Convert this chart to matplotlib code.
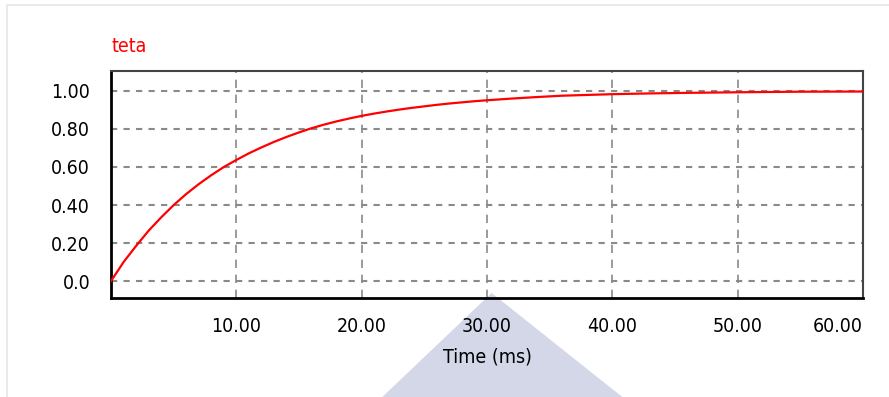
import matplotlib
matplotlib.use("Agg")
import matplotlib.pyplot as plt
from matplotlib.patches import Polygon, Rectangle

# teta
time_ms = [0, 1, 2, 3, 4, 5, 6, 7, 8, 9, 10, 11, 12, 13, 14, 15, 16, 17, 18, 19,
           20, 21, 22, 23, 24, 25, 26, 27, 28, 29, 30, 32, 34, 36, 38, 40, 43,
           46, 50, 55, 60]
teta = [0.0, 0.10, 0.185, 0.265, 0.335, 0.40, 0.458, 0.51, 0.557, 0.6, 0.637,
        0.672, 0.703, 0.732, 0.758, 0.782, 0.804, 0.823, 0.84, 0.855, 0.869,
        0.881, 0.892, 0.902, 0.911, 0.919, 0.927, 0.934, 0.94, 0.946, 0.951,
        0.96, 0.968, 0.975, 0.979, 0.983, 0.987, 0.99, 0.993, 0.996, 0.997]

x_ticks = [10, 20, 30, 40, 50, 60]
x_tick_labels = ["10.00", "20.00", "30.00", "40.00", "50.00", "60.00"]
y_ticks = [0.0, 0.2, 0.4, 0.6, 0.8, 1.0]
y_tick_labels = ["0.0", "0.20", "0.40", "0.60", "0.80", "1.00"]

plt.rcParams['font.family'] = ['DejaVu Sans']
plt.rcParams['font.stretch'] = 'condensed'

fig = plt.figure(figsize=(8.89, 3.97), dpi=100)

# faint page frame and watermark triangle from the scanned document
fig.patches.append(Rectangle((0.008, -0.1), 1.1, 1.087, transform=fig.transFigure,
                             fill=False, edgecolor="#e6e6e6", linewidth=1.2, zorder=-2))
fig.patches.append(Polygon([(0.43, 0.0), (0.553, 0.262), (0.70, 0.0)], closed=True,
                           transform=fig.transFigure, facecolor="#d3d7e8",
                           edgecolor="none", zorder=-2))

ax = fig.add_axes([0.1249, 0.2494, 0.8459, 0.5718])
ax.set_zorder(1)
ax.patch.set_alpha(0.0)

ax.plot(time_ms, teta, color="red", linewidth=1.6, zorder=3)

ax.set_xlim(0, 60)
ax.set_ylim(-0.089, 1.105)
ax.set_xticks(x_ticks)
ax.set_xticklabels(x_tick_labels)
ax.set_yticks(y_ticks)
ax.set_yticklabels(y_tick_labels)
ax.tick_params(axis="both", length=0, labelsize=14, colors="black")
ax.tick_params(axis="x", pad=14)
ax.tick_params(axis="y", pad=15)
ax.get_xticklabels()[-1].set_horizontalalignment("right")

ax.xaxis.grid(True, color="#8a8a8a", linestyle=(0, (5, 4)), linewidth=1.2)
ax.yaxis.grid(True, color="#8a8a8a", linestyle=(0, (3, 3)), linewidth=1.5)

for side in ["left", "bottom"]:
    ax.spines[side].set_color("black")
    ax.spines[side].set_linewidth(2.0)
for side in ["top", "right"]:
    ax.spines[side].set_color("#444444")
    ax.spines[side].set_linewidth(1.5)

ax.set_xlabel("Time (ms)", fontsize=14, labelpad=8)
ax.set_title("teta", loc="left", color="red", fontsize=14, pad=14)

fig.savefig("out.png", dpi=100)
